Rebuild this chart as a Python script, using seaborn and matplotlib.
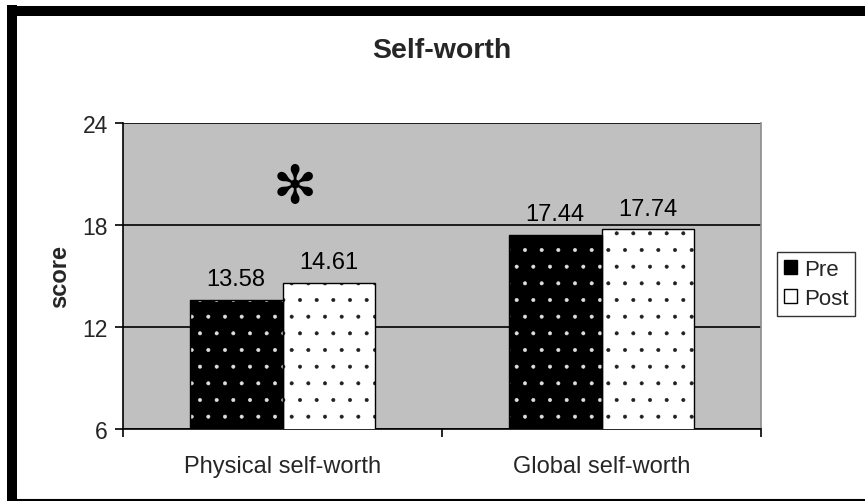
import matplotlib
matplotlib.use("Agg")
import matplotlib.pyplot as plt
import seaborn as sns
import pandas as pd
from matplotlib.patches import Patch, Rectangle
from matplotlib.lines import Line2D

categories = ["Physical self-worth", "Global self-worth"]
series = ["Pre", "Post"]
pre_values = [13.58, 17.44]
post_values = [14.61, 17.74]
y_ticks = [6, 12, 18, 24]

df = pd.DataFrame({
    "category": categories * 2,
    "time": ["Pre"] * 2 + ["Post"] * 2,
    "score": pre_values + post_values,
})

sns.set_theme(style="white")
plt.rcParams["font.family"] = ["Liberation Sans", "DejaVu Sans"]
plt.rcParams["hatch.linewidth"] = 0.4

fig = plt.figure(figsize=(8.65, 5.02), dpi=100)
ax = fig.add_axes([123 / 865, 1 - 430 / 502, (761 - 123) / 865, (430 - 124) / 502])
ax.set_facecolor("#C0C0C0")

sns.barplot(data=df, x="category", y="score", hue="time", order=categories,
            hue_order=series, palette=["black", "white"], width=0.58,
            linewidth=0, ax=ax, legend=False, zorder=3)

dot_colors = {"Pre": "#E0E0E0", "Post": "#202020"}
for cont, name in zip(ax.containers, series):
    for p in cont:
        p.set_hatch(".")
        p.set_edgecolor(dot_colors[name])
        p.set_linewidth(0)
        ax.add_patch(Rectangle(p.get_xy(), p.get_width(), p.get_height(),
                               fill=False, edgecolor="black", linewidth=1.0, zorder=4))
    ax.bar_label(cont, fmt="%.2f", padding=7, fontsize=17, color="black")

ax.set_ylim(6, 24)
ax.set_xlim(-0.5, 1.5)
ax.set_yticks(y_ticks)
ax.yaxis.grid(True, color="black", linewidth=1.2, zorder=1)
ax.set_axisbelow(True)

ax.set_xticks([0, 1])
ax.set_xticklabels(categories, fontsize=17)
ax.set_xticks([-0.5, 0.5, 1.5], minor=True)
ax.tick_params(axis="x", which="major", length=0, pad=19)
ax.tick_params(axis="x", which="minor", length=6, width=1.2, color="black", direction="out", bottom=True)
ax.tick_params(axis="y", length=6, width=1.2, color="black", direction="out", left=True, labelsize=16.5, pad=5)

ax.set_xlabel("")
ax.set_ylabel("score", fontsize=17, fontweight="bold", labelpad=8)

for s in ["left", "bottom"]:
    ax.spines[s].set_color("black")
    ax.spines[s].set_linewidth(1.2)
ax.spines["top"].set_visible(False)
ax.spines["right"].set_color("#8C8C8C")
ax.spines["right"].set_linewidth(1.2)

ax.text(0.04, 20.25, "\u273B", fontsize=38, ha="center", va="center",
        family=["DejaVu Sans"], color="black", zorder=5)

fig.text(442 / 865, 1 - 51 / 502, "Self-worth", fontsize=20.5, fontweight="bold",
         ha="center", va="center")

handles = [Patch(facecolor="black", edgecolor="black"),
           Patch(facecolor="white", edgecolor="black")]
leg = fig.legend(handles=handles, labels=series, loc="center left",
                 bbox_to_anchor=(777 / 865, 1 - 285 / 502), fontsize=16,
                 frameon=True, fancybox=False, handlelength=0.6, handleheight=0.6,
                 handletextpad=0.3, borderpad=0.3, labelspacing=0.35, borderaxespad=0)
leg.get_frame().set_edgecolor("black")
leg.get_frame().set_linewidth(1.0)

# figure border
fig.add_artist(Line2D([12 / 865, 12 / 865], [1 - 6 / 502, 1 - 501 / 502], color="black",
                      linewidth=7.2, transform=fig.transFigure, solid_capstyle="butt"))
fig.add_artist(Line2D([7 / 865, 1.0], [1 - 11.5 / 502, 1 - 11.5 / 502], color="black",
                      linewidth=7.2, transform=fig.transFigure, solid_capstyle="butt"))
fig.add_artist(Line2D([7 / 865, 1.0], [1 - 500.5 / 502, 1 - 500.5 / 502], color="black",
                      linewidth=1.5, transform=fig.transFigure, solid_capstyle="butt"))

fig.savefig("out.png", dpi=100)
